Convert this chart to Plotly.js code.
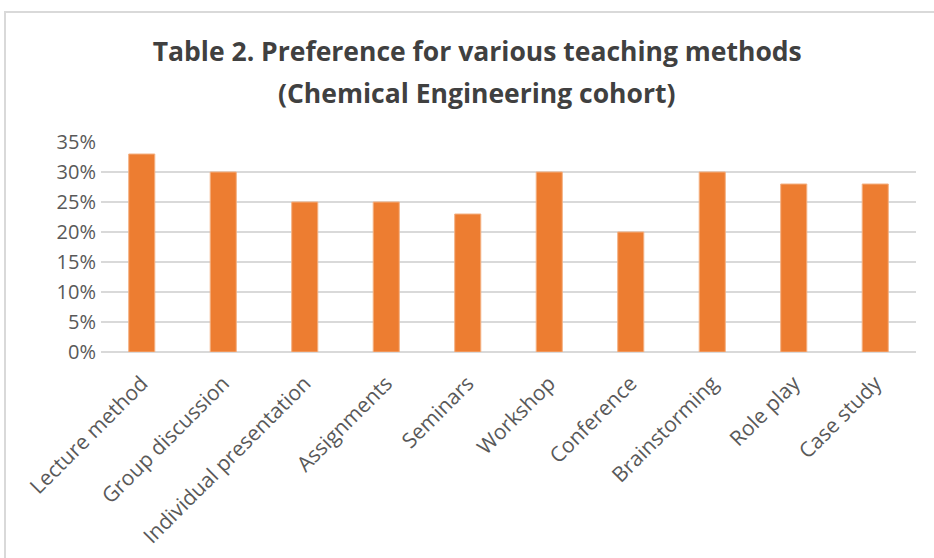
<!DOCTYPE html>
<html>
<head>
<meta charset="utf-8">
<script src="https://cdn.plot.ly/plotly-3.0.1.min.js"></script>
<style>
html, body { margin: 0; padding: 0; background: #ffffff; overflow: hidden; }
#frame { position: absolute; left: 4px; top: 11px; width: 1000px; height: 1000px; border: 2px solid #d9d9d9; box-sizing: border-box; }
#chart { position: absolute; left: 0; top: 0; width: 934px; height: 558px; }
</style>
</head>
<body>
<div id="frame"></div>
<div id="chart"></div>
<script>
const categories = ["Lecture method", "Group discussion", "Individual presentation", "Assignments", "Seminars", "Workshop", "Conference", "Brainstorming", "Role play", "Case study"];
const preference = [0.33, 0.30, 0.25, 0.25, 0.23, 0.30, 0.20, 0.30, 0.28, 0.28];
const yTickValues = [0, 0.05, 0.10, 0.15, 0.20, 0.25, 0.30, 0.35];
const yTickLabels = ["0%", "5%", "10%", "15%", "20%", "25%", "30%", "35%"];
const titleLine1 = "Table 2. Preference for various teaching methods";
const titleLine2 = "(Chemical Engineering cohort)";

const trace = {
  type: "bar",
  x: categories,
  y: preference,
  marker: { color: "#ED7D31", line: { color: "#F4B183", width: 1 } },
  hoverinfo: "x+y"
};

const layout = {
  width: 934,
  height: 558,
  paper_bgcolor: "rgba(0,0,0,0)",
  plot_bgcolor: "rgba(0,0,0,0)",
  margin: { l: 101, r: 18, t: 142, b: 206 },
  bargap: 0.68,
  showlegend: false,
  font: { family: "Open Sans, sans-serif", color: "#595959", size: 20 },
  title: {
    text: "<b>" + titleLine1 + "</b>",
    font: { family: "Open Sans, sans-serif", size: 26.5, color: "#404040" },
    x: 0.511,
    xanchor: "center",
    xref: "container",
    yref: "container",
    y: 0.907,
    yanchor: "middle"
  },
  annotations: [{
    text: "<b>" + titleLine2 + "</b>",
    font: { family: "Open Sans, sans-serif", size: 26.5, color: "#404040" },
    xref: "paper",
    yref: "paper",
    x: 0.461,
    y: 1.233,
    xanchor: "center",
    yanchor: "middle",
    showarrow: false
  }],
  xaxis: {
    type: "category",
    tickangle: -45,
    showgrid: false,
    showline: false,
    ticks: "",
    ticklabelstandoff: 14,
    tickfont: { size: 21, color: "#595959" },
    fixedrange: true
  },
  yaxis: {
    range: [0, 0.35],
    tickvals: yTickValues,
    ticktext: yTickLabels,
    showgrid: true,
    gridcolor: "#d9d9d9",
    gridwidth: 1.5,
    zeroline: true,
    zerolinecolor: "#d9d9d9",
    zerolinewidth: 1.5,
    showline: false,
    ticks: "",
    ticklabelstandoff: 4,
    tickfont: { size: 20, color: "#595959" },
    fixedrange: true
  }
};

Plotly.newPlot("chart", [trace], layout, { displayModeBar: false, staticPlot: true });
</script>
</body>
</html>
